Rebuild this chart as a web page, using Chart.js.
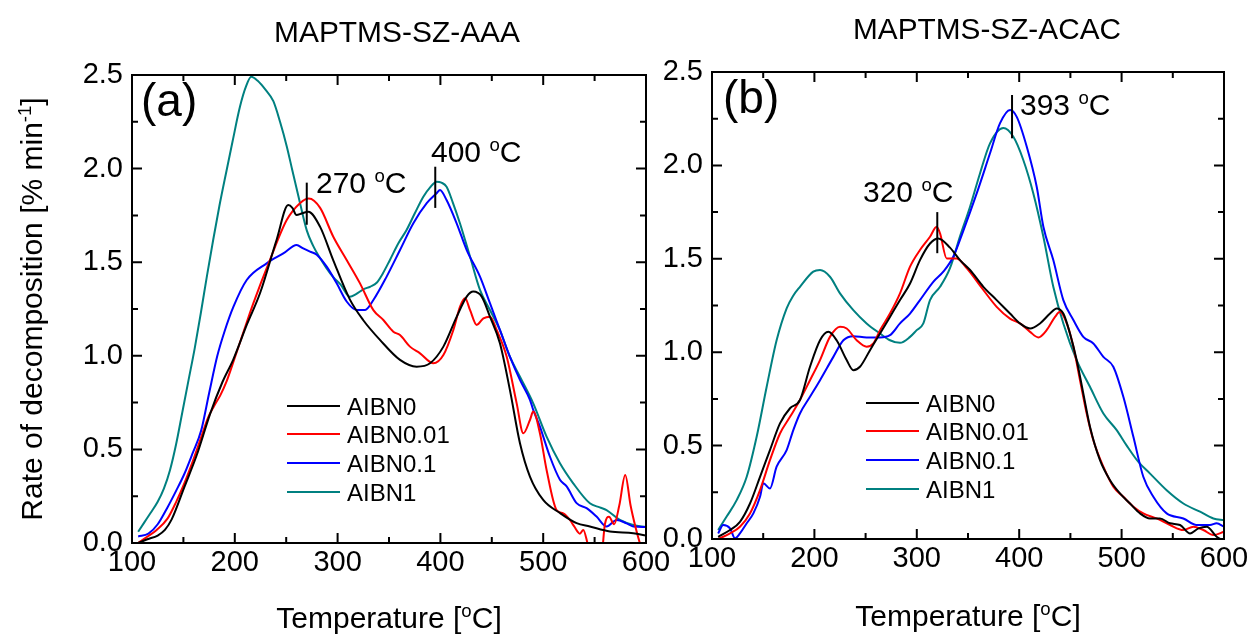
<!DOCTYPE html>
<html>
<head>
<meta charset="utf-8">
<title>DTG curves - MAPTMS-SZ</title>
<script src="https://cdn.jsdelivr.net/npm/chart.js@4.4.1/dist/chart.umd.min.js"></script>
<style>
  html, body { margin: 0; padding: 0; background: #fff; }
  #wrap { position: relative; width: 1252px; height: 636px; }
  #wrap canvas { position: absolute; left: 0; top: 0; }
</style>
</head>
<body>
<div id="wrap">
  <canvas id="chartA" width="1252" height="636"></canvas>
  <canvas id="chartB" width="1252" height="636"></canvas>
</div>
<script>
// Series names and tick values
const seriesNames = ['AIBN0', 'AIBN0.01', 'AIBN0.1', 'AIBN1'];
const xTicks = [100, 200, 300, 400, 500, 600];
const yTicks = [0, 0.5, 1.0, 1.5, 2.0, 2.5];

// (a) MAPTMS-SZ-AAA : [temperature, rate]
const aaaAIBN0 = [[106,0.0],[115,0.02],[125,0.04],[132,0.07],[138.6,0.126],[151,0.30],[163,0.47],[176,0.69],[188,0.86],[198.5,0.98],[212,1.17],[224.5,1.334],[240.7,1.62],[252,1.805],[256,1.79],[260,1.752],[265,1.76],[271.5,1.77],[282.9,1.69],[295.8,1.51],[312,1.30],[325,1.19],[341.2,1.085],[360.7,0.978],[376.9,0.942],[389.9,0.96],[402.9,1.049],[415.9,1.209],[425.6,1.316],[432,1.343],[440.2,1.316],[448.2,1.209],[457.9,1.067],[467.6,0.818],[477.4,0.533],[487.1,0.355],[500,0.23],[516.3,0.16],[532.5,0.106],[545.4,0.088],[564.9,0.061],[587.6,0.052],[600,0.04]];
const aaaAIBN001 = [[106,0.0],[114,0.03],[124,0.07],[134.5,0.13],[143,0.22],[151,0.32],[160,0.45],[167,0.56],[174,0.67],[180,0.733],[186,0.79],[192,0.863],[200,0.99],[208,1.12],[218,1.28],[234,1.51],[250.5,1.725],[263.4,1.815],[272,1.84],[283,1.79],[295.8,1.636],[308.8,1.512],[321.8,1.387],[334.8,1.244],[344.5,1.191],[354.2,1.129],[360.7,1.111],[370.4,1.049],[380.2,1.013],[393.1,0.96],[402.9,1.004],[412.6,1.138],[419.1,1.263],[424,1.307],[428.8,1.245],[435.3,1.165],[441.8,1.2],[448.2,1.209],[454.7,1.138],[464.5,0.995],[474.2,0.746],[480.7,0.586],[487.1,0.657],[490.3,0.702],[496.8,0.586],[503.3,0.39],[513,0.176],[519.5,0.158],[526,0.123],[530,0.09],[535.7,0.05],[539,0.07],[543,0.0],[547,-0.1],[556,-0.1],[560,0.1],[564,0.14],[569,0.1],[574,0.2],[579.8,0.363],[585,0.2],[590,0.08],[594,0.0],[600,-0.1]];
const aaaAIBN01 = [[106,0.035],[116,0.05],[125,0.1],[134.5,0.19],[143,0.28],[151,0.37],[159,0.48],[167.4,0.603],[175,0.8],[183,1.0],[190,1.13],[198.5,1.26],[211.6,1.405],[231,1.494],[247.2,1.547],[260.2,1.592],[266,1.575],[273.2,1.556],[279.7,1.54],[289.4,1.476],[299.1,1.387],[308.8,1.29],[318.6,1.245],[326.7,1.245],[334.8,1.298],[347.7,1.423],[360.7,1.565],[373.7,1.708],[386.7,1.815],[396.3,1.868],[399.6,1.886],[406,1.832],[415.8,1.708],[425.6,1.565],[438.5,1.423],[448.2,1.281],[457.9,1.138],[467.6,0.995],[477.4,0.871],[487.1,0.765],[490.3,0.711],[496.8,0.622],[506.5,0.462],[516.3,0.338],[522.8,0.302],[532.5,0.213],[542.2,0.186],[551.9,0.141],[561.6,0.088],[571.4,0.123],[581.1,0.105],[587.6,0.088],[600,0.085]];
const aaaAIBN1 = [[106,0.06],[112,0.11],[118,0.16],[125,0.22],[131,0.29],[137,0.39],[143,0.53],[149,0.7],[155,0.87],[161,1.04],[167,1.23],[173,1.43],[179,1.62],[185,1.8],[192,1.99],[198,2.15],[205,2.33],[211,2.44],[216,2.49],[222,2.47],[230,2.42],[237.5,2.36],[244,2.25],[250.5,2.12],[256,1.99],[262,1.85],[270,1.67],[276,1.59],[282,1.53],[289,1.47],[295.8,1.42],[303,1.38],[312,1.316],[318,1.33],[325,1.355],[332,1.37],[338,1.39],[344,1.44],[350.9,1.512],[359,1.6],[367.1,1.672],[375,1.76],[383.4,1.85],[390,1.9],[396.3,1.93],[401,1.925],[406,1.903],[412,1.82],[419,1.708],[428.8,1.53],[438.5,1.352],[448.2,1.245],[457.9,1.137],[467.6,0.995],[477.4,0.888],[490.3,0.746],[503.3,0.568],[516.3,0.426],[529.2,0.319],[545.4,0.212],[555,0.19],[561.6,0.176],[574.6,0.123],[587.6,0.096],[600,0.085]];

// (b) MAPTMS-SZ-ACAC : [temperature, rate]
const acacAIBN0 = [[106,0.012],[117.6,0.048],[127.3,0.092],[137.1,0.19],[146.9,0.333],[156.6,0.476],[166.4,0.619],[176.2,0.7],[185.9,0.744],[195.7,0.922],[205.5,1.064],[213.6,1.109],[221.7,1.064],[231.5,0.958],[238,0.904],[244.5,0.922],[254.3,1.011],[264.1,1.1],[273.8,1.189],[283.6,1.279],[293.4,1.368],[303.1,1.493],[312.9,1.582],[321,1.609],[332.4,1.56],[342.2,1.493],[352,1.44],[365,1.35],[378,1.279],[391,1.207],[400.8,1.154],[410.6,1.127],[420.3,1.154],[430.1,1.207],[436.6,1.234],[443.1,1.207],[449.6,1.1],[456.1,0.958],[462.6,0.779],[469.1,0.601],[478.9,0.422],[488.7,0.315],[498.4,0.244],[508.2,0.19],[518,0.137],[527.8,0.11],[537.5,0.11],[547.3,0.084],[557.1,0.075],[566.9,0.03],[575,0.057],[583.1,0.066],[592.8,0.012],[600,-0.01]];
const acacAIBN001 = [[106,0.0],[117.6,0.03],[127.3,0.066],[137.1,0.137],[146.9,0.262],[156.6,0.422],[166.4,0.565],[176.2,0.654],[185.9,0.744],[195.7,0.85],[205.5,0.958],[215.2,1.082],[225,1.136],[231.5,1.127],[241.3,1.064],[251,1.029],[257.6,1.047],[264.1,1.118],[273.8,1.207],[283.6,1.315],[293.4,1.458],[303.1,1.547],[312.9,1.618],[319.4,1.672],[322.7,1.636],[329.2,1.502],[339,1.502],[348.7,1.45],[365,1.333],[378,1.243],[391,1.18],[400.8,1.154],[410.6,1.109],[418.7,1.079],[426.8,1.118],[435,1.189],[439.9,1.216],[446.4,1.154],[452.9,1.029],[459.4,0.85],[465.9,0.672],[472.4,0.529],[482.2,0.387],[491.9,0.28],[501.7,0.226],[511.5,0.173],[521.2,0.137],[534.2,0.11],[547.3,0.075],[560.3,0.048],[570.1,0.066],[579.8,0.048],[589.6,0.021],[600,0.039]];
const acacAIBN01 = [[106,0.03],[111,0.075],[117.6,0.057],[122.5,0.004],[127.3,0.03],[133.9,0.084],[140.4,0.137],[146.9,0.226],[150.1,0.298],[156.6,0.271],[163.1,0.387],[172.9,0.476],[179.4,0.583],[185.9,0.672],[195.7,0.761],[205.5,0.85],[218.5,0.975],[228.3,1.064],[238,1.086],[251,1.079],[264.1,1.079],[273.8,1.091],[283.6,1.154],[293.4,1.207],[303.1,1.279],[316.1,1.377],[325.9,1.431],[335.6,1.511],[345.4,1.65],[358.5,1.85],[371.5,2.065],[381.3,2.226],[391.1,2.297],[397.6,2.26],[407.4,2.1],[417.1,1.886],[423.6,1.672],[433.3,1.493],[443.1,1.279],[452.9,1.172],[462.6,1.082],[472.4,1.047],[482.2,0.975],[491.9,0.922],[501.7,0.761],[511.5,0.547],[521.2,0.333],[531,0.226],[544,0.137],[560.3,0.11],[573.2,0.075],[586.3,0.075],[592.8,0.084],[600,0.066]];
const acacAIBN1 = [[106,0.048],[114.3,0.12],[124.1,0.208],[133.9,0.333],[143.6,0.547],[153.4,0.815],[163.1,1.064],[172.9,1.235],[179,1.3],[185.9,1.35],[198.9,1.431],[205.5,1.44],[215.2,1.404],[225,1.315],[238,1.225],[251,1.154],[264.1,1.1],[273.8,1.064],[283.6,1.05],[293.4,1.082],[299.9,1.118],[306.4,1.154],[312.9,1.279],[322.7,1.35],[332.4,1.45],[342.2,1.62],[352,1.779],[361.7,1.957],[371.5,2.118],[384.5,2.2],[394.3,2.153],[404,2.029],[413.8,1.85],[423.6,1.618],[433.3,1.35],[443.1,1.154],[456.1,0.958],[469.1,0.815],[482.2,0.672],[495.2,0.583],[505,0.5],[516.2,0.414],[527.8,0.35],[544,0.261],[560.3,0.19],[576.6,0.146],[589.6,0.11],[600,0.1]];

const seriesColors = ['#000000', '#ff0000', '#0000ff', '#008080'];
const FONT = "'Liberation Sans', Arial, sans-serif";

// Draw a row of text pieces, some of them as superscripts ([text, isSup])
function drawRuns(ctx, x, y, runs, size, center) {
  const supSize = size * 0.62;
  let total = 0;
  runs.forEach(r => {
    ctx.font = (r[1] ? supSize : size) + 'px ' + FONT;
    total += ctx.measureText(r[0]).width;
  });
  let cx = center ? x - total / 2 : x;
  ctx.textAlign = 'left';
  ctx.textBaseline = 'alphabetic';
  runs.forEach(r => {
    ctx.font = (r[1] ? supSize : size) + 'px ' + FONT;
    ctx.fillText(r[0], cx, r[1] ? y - size * 0.38 : y);
    cx += ctx.measureText(r[0]).width;
  });
}

// Frame, inward ticks, peak marks, legend and all the titles
const overlay = {
  id: 'overlay',
  afterDraw(chart, args, o) {
    const ctx = chart.ctx;
    const a = chart.chartArea;
    const xs = chart.scales.x, ys = chart.scales.y;
    ctx.save();
    ctx.strokeStyle = '#000';
    ctx.fillStyle = '#000';
    ctx.lineWidth = 2;

    ctx.strokeRect(a.left, a.top, a.right - a.left, a.bottom - a.top);

    ctx.beginPath();
    xTicks.forEach((t, i) => {
      const marks = [[t, 10]];
      if (i < xTicks.length - 1) marks.push([(t + xTicks[i + 1]) / 2, 6]);
      marks.forEach(m => {
        const px = xs.getPixelForValue(m[0]);
        ctx.moveTo(px, a.bottom); ctx.lineTo(px, a.bottom - m[1]);
        ctx.moveTo(px, a.top); ctx.lineTo(px, a.top + m[1]);
      });
    });
    yTicks.forEach((v, i) => {
      const marks = [[v, 10]];
      if (i < yTicks.length - 1) marks.push([(v + yTicks[i + 1]) / 2, 6]);
      marks.forEach(m => {
        const py = ys.getPixelForValue(m[0]);
        ctx.moveTo(a.left, py); ctx.lineTo(a.left + m[1], py);
        ctx.moveTo(a.right, py); ctx.lineTo(a.right - m[1], py);
      });
    });
    ctx.stroke();

    // peak marks
    o.peaks.forEach(p => {
      const px = xs.getPixelForValue(p.t);
      ctx.beginPath();
      ctx.moveTo(px, ys.getPixelForValue(p.from));
      ctx.lineTo(px, ys.getPixelForValue(p.to));
      ctx.stroke();
      drawRuns(ctx, p.tx, p.ty, [[p.label + ' ', false], ['o', true], ['C', false]], 30, false);
    });

    // legend
    chart.data.datasets.forEach((ds, i) => {
      const y = o.legend.rows[i];
      ctx.strokeStyle = ds.borderColor;
      ctx.beginPath();
      ctx.moveTo(o.legend.x1, y); ctx.lineTo(o.legend.x2, y);
      ctx.stroke();
      ctx.font = '24px ' + FONT;
      ctx.textAlign = 'left';
      ctx.textBaseline = 'alphabetic';
      ctx.fillText(ds.label, o.legend.tx, y + 8.5);
    });

    // panel letter and title
    ctx.font = '46px ' + FONT;
    ctx.textAlign = 'left';
    ctx.fillText(o.letter, o.letterX, o.letterY);
    ctx.font = '30px ' + FONT;
    ctx.textAlign = 'center';
    ctx.fillText(o.title, o.titleX, o.titleY, o.titleW);

    // x axis title
    drawRuns(ctx, (a.left + a.right) / 2, o.xTitleY, [['Temperature [', false], ['o', true], ['C]', false]], 30, true);

    // y axis title (left panel only)
    if (o.yTitle) {
      ctx.translate(42, (a.top + a.bottom) / 2);
      ctx.rotate(-Math.PI / 2);
      drawRuns(ctx, 0, 0, [['Rate of decomposition [% min', false], ['-1', true], [']', false]], 30, true);
    }
    ctx.restore();
  }
};

function makePanel(id, series, box, extra) {
  const ctx = document.getElementById(id).getContext('2d');
  return new Chart(ctx, {
    type: 'line',
    data: {
      datasets: series.map((s, i) => ({
        label: seriesNames[i],
        data: s.map(p => ({ x: p[0], y: p[1] })),
        borderColor: seriesColors[i],
        borderWidth: 2,
        pointRadius: 0,
        fill: false,
        cubicInterpolationMode: 'monotone'
      }))
    },
    options: {
      responsive: false,
      animation: false,
      layout: { padding: box.padding },
      plugins: {
        legend: { display: false },
        tooltip: { enabled: false },
        overlay: extra
      },
      scales: {
        x: {
          type: 'linear', min: 100, max: 600,
          afterBuildTicks: s => { s.ticks = xTicks.map(v => ({ value: v })); },
          afterFit: s => { s.height = box.xHeight; },
          grid: { display: false, drawTicks: false },
          border: { display: false },
          ticks: {
            autoSkip: false, maxRotation: 0, padding: 3, color: '#000',
            font: { family: FONT, size: 29 },
            callback: v => String(v)
          }
        },
        y: {
          min: 0, max: 2.5,
          afterBuildTicks: s => { s.ticks = yTicks.map(v => ({ value: v })); },
          afterFit: s => { s.width = box.yWidth; },
          grid: { display: false, drawTicks: false },
          border: { display: false },
          ticks: {
            autoSkip: false, padding: 9, color: '#000',
            font: { family: FONT, size: 29 },
            callback: v => Number(v).toFixed(1)
          }
        }
      }
    },
    plugins: [overlay]
  });
}

document.addEventListener('DOMContentLoaded', function() {
  // (a) plot area 132..646 x 75..543
  makePanel('chartA', [aaaAIBN0, aaaAIBN001, aaaAIBN01, aaaAIBN1],
    { padding: { left: 0, top: 75, right: 606, bottom: 0 }, yWidth: 132, xHeight: 93 },
    {
      letter: '(a)', letterX: 141, letterY: 116,
      title: 'MAPTMS-SZ-AAA', titleX: 397, titleY: 42, titleW: 246,
      xTitleY: 628, yTitle: true,
      legend: { x1: 287, x2: 340, tx: 347, rows: [406, 434, 463, 492] },
      peaks: [
        { t: 270, from: 1.70, to: 1.925, label: '270', tx: 316, ty: 193 },
        { t: 395, from: 1.79, to: 2.01, label: '400', tx: 431, ty: 162 }
      ]
    });

  // (b) plot area 712..1224 x 72..539
  makePanel('chartB', [acacAIBN0, acacAIBN001, acacAIBN01, acacAIBN1],
    { padding: { left: 652, top: 72, right: 28, bottom: 0 }, yWidth: 60, xHeight: 97 },
    {
      letter: '(b)', letterX: 723, letterY: 113,
      title: 'MAPTMS-SZ-ACAC', titleX: 987, titleY: 39, titleW: 268,
      xTitleY: 626, yTitle: false,
      legend: { x1: 866, x2: 919, tx: 926, rows: [403, 431, 460, 489] },
      peaks: [
        { t: 320, from: 1.53, to: 1.75, label: '320', tx: 863, ty: 202 },
        { t: 393, from: 2.145, to: 2.377, label: '393', tx: 1020, ty: 115 }
      ]
    });
});
</script>
</body>
</html>
